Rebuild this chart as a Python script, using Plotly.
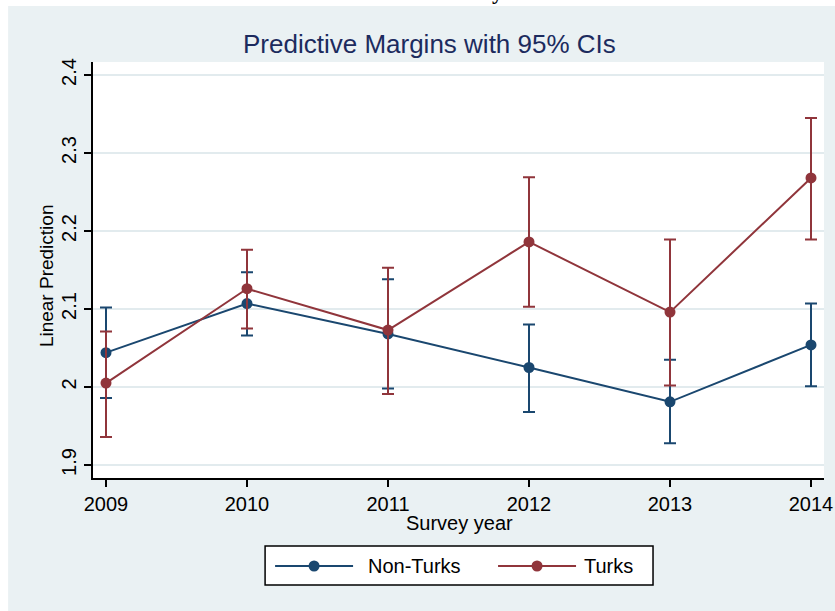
import plotly.graph_objects as go

years = [2009, 2010, 2011, 2012, 2013, 2014]
non_turks = [2.044, 2.107, 2.068, 2.025, 1.981, 2.054]
non_turks_hi = [2.102, 2.147, 2.138, 2.080, 2.035, 2.107]
non_turks_lo = [1.986, 2.066, 1.998, 1.968, 1.928, 2.001]
turks = [2.005, 2.126, 2.073, 2.186, 2.096, 2.268]
turks_hi = [2.071, 2.176, 2.153, 2.269, 2.189, 2.345]
turks_lo = [1.936, 2.075, 1.991, 2.103, 2.002, 2.189]
y_ticks = [1.9, 2.0, 2.1, 2.2, 2.3, 2.4]
y_tick_labels = ["1.9", "2", "2.1", "2.2", "2.3", "2.4"]
series_names = ["Non-Turks", "Turks"]

NAVY = "#1A476F"
MAROON = "#90353B"
BG = "#EAF1F3"
GRID = "#E2EBEE"
FONT = "Liberation Sans, Arial, sans-serif"

SX = 0.988  # observed horizontal squeeze of the page capture


def fx(x):
    return x / SX


W, H = round(fx(835)), 611
L, T = round(fx(92)), 62
R = W - round(fx(823))
B = H - 478
PW, PH = W - L - R, H - T - B


def px(x):
    return (fx(x) - L) / PW


def py(y):
    return (H - B - y) / PH


fig = go.Figure()
for name, vals, hi, lo, col in [
    (series_names[0], non_turks, non_turks_hi, non_turks_lo, NAVY),
    (series_names[1], turks, turks_hi, turks_lo, MAROON),
]:
    fig.add_trace(go.Scatter(
        x=years, y=vals, mode="lines+markers", name=name,
        line=dict(color=col, width=2),
        marker=dict(color=col, size=11, symbol="circle"),
        error_y=dict(type="data", symmetric=False,
                     array=[h - v for h, v in zip(hi, vals)],
                     arrayminus=[v - l for v, l in zip(vals, lo)],
                     color=col, thickness=2, width=6),
        showlegend=False,
    ))

shapes = [
    dict(type="rect", xref="paper", yref="paper", x0=px(7), x1=px(W + 20),
         y0=py(H + 5), y1=py(6), fillcolor=BG, line=dict(width=0), layer="below"),
    dict(type="rect", xref="paper", yref="paper", x0=0, x1=1, y0=0, y1=1,
         fillcolor="white", line=dict(width=0), layer="below"),
    # legend box
    dict(type="rect", xref="paper", yref="paper", x0=px(264), x1=px(652),
         y0=py(585), y1=py(546), fillcolor="white",
         line=dict(color="black", width=1.5)),
    dict(type="line", xref="paper", yref="paper", x0=px(274), x1=px(352),
         y0=py(566), y1=py(566), line=dict(color=NAVY, width=2)),
    dict(type="circle", xref="paper", yref="paper", x0=px(313 - 5.5), x1=px(313 + 5.5),
         y0=py(566 + 5.5), y1=py(566 - 5.5), fillcolor=NAVY, line=dict(width=0)),
    dict(type="line", xref="paper", yref="paper", x0=px(497), x1=px(575),
         y0=py(566), y1=py(566), line=dict(color=MAROON, width=2)),
    dict(type="circle", xref="paper", yref="paper", x0=px(536 - 5.5), x1=px(536 + 5.5),
         y0=py(566 + 5.5), y1=py(566 - 5.5), fillcolor=MAROON, line=dict(width=0)),
]

annotations = [
    dict(text="Predictive Margins with 95% CIs", xref="paper", yref="paper",
         x=px(428), y=py(44), xanchor="center", yanchor="middle", showarrow=False,
         font=dict(family=FONT, size=26, color="#1C2B5E")),
    dict(text="Survey year", xref="paper", yref="paper",
         x=px(458), y=py(523), xanchor="center", yanchor="middle", showarrow=False,
         font=dict(family=FONT, size=20, color="black")),
    dict(text="Linear Prediction", xref="paper", yref="paper", textangle=-90,
         x=px(45), y=py(276), xanchor="center", yanchor="middle", showarrow=False,
         font=dict(family=FONT, size=19, color="black")),
    dict(text=series_names[0], xref="paper", yref="paper",
         x=px(365), y=py(566), xanchor="left", yanchor="middle", showarrow=False,
         font=dict(family=FONT, size=20, color="black")),
    dict(text=series_names[1], xref="paper", yref="paper",
         x=px(581), y=py(566), xanchor="left", yanchor="middle", showarrow=False,
         font=dict(family=FONT, size=20, color="black")),
    dict(text="<b>y</b>", xref="paper", yref="paper",
         x=px(496), y=py(-8), xanchor="center", yanchor="middle", showarrow=False,
         font=dict(family="Liberation Serif, serif", size=22, color="black")),
]

fig.update_layout(
    width=W, height=H,
    margin=dict(l=L, r=R, t=T, b=B, pad=0),
    paper_bgcolor="white", plot_bgcolor="white",
    shapes=shapes, annotations=annotations,
    font=dict(family=FONT, size=20, color="black"),
    showlegend=False,
)
fig.update_xaxes(
    range=[2009 - 13 / 141, 2014 + 13 / 141], tickvals=years,
    ticktext=[str(y) for y in years],
    showgrid=False, zeroline=False, showline=True, linecolor="black", linewidth=1.5,
    ticks="outside", ticklen=7, tickwidth=1.5, tickcolor="black",
    tickfont=dict(family=FONT, size=20, color="black"),
)
fig.update_yaxes(
    range=[1.9 - 13 / 780, 2.4 + 13 / 780], tickvals=y_ticks, ticktext=y_tick_labels,
    tickangle=-90,
    showgrid=True, gridcolor=GRID, gridwidth=2, zeroline=False,
    showline=True, linecolor="black", linewidth=1.5,
    ticks="outside", ticklen=7, tickwidth=1.5, tickcolor="black",
    tickfont=dict(family=FONT, size=20, color="black"),
)

fig.write_html("out.html", config={"responsive": False, "displayModeBar": False},
               post_script="document.body.style.margin='0px';")
